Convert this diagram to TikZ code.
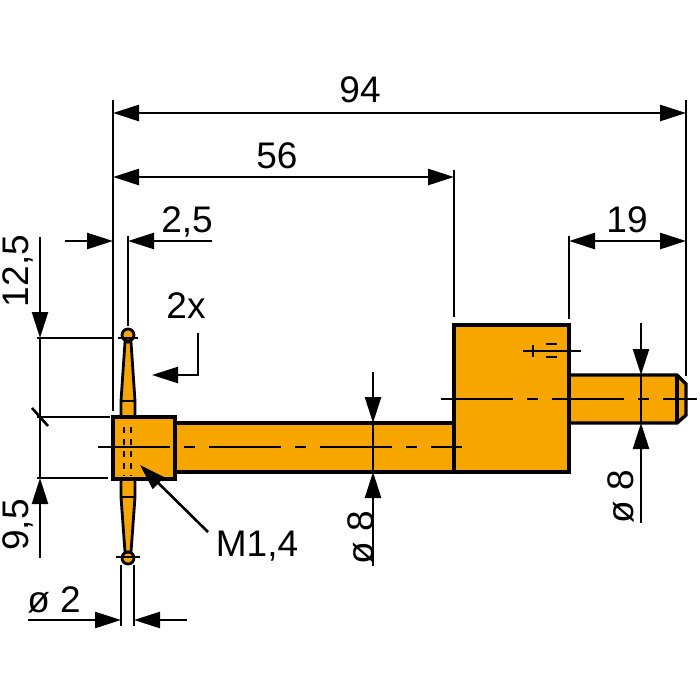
\documentclass[tikz,border=0pt]{standalone}
\usepackage{fontspec}
\setmainfont{Liberation Sans}
\usetikzlibrary{arrows.meta}
\definecolor{pinorange}{HTML}{F7A600}

\begin{document}
\begin{tikzpicture}[x=1pt,y=-1pt,>={Triangle[length=26pt,width=16pt]},
    dim/.style={line width=2.6pt,draw=black},
    part/.style={line width=3.4pt,draw=black,fill=pinorange,line join=miter},
    thin part/.style={line width=2.8pt,draw=black,fill=pinorange},
    axis/.style={line width=2pt,dash pattern=on 72pt off 14pt on 11pt off 14pt},
    hidden/.style={line width=2.2pt,dash pattern=on 6pt off 6pt},
    label/.style={font=\fontsize{37}{37}\selectfont,inner sep=0pt}]
\useasboundingbox (0,0) rectangle (700,700);
\fill[white] (0,0) rectangle (700,700);

% pin with the two balls
\draw[thin part] (128,335) circle (6);
\draw[thin part] (128,558) circle (6);
\draw[thin part] (125,342) -- (131,342) -- (135,401) -- (135,418) -- (121,418) -- (121,401) -- cycle;
\draw[thin part] (121,478) -- (135,478) -- (135,497) -- (131,552) -- (125,552) -- (121,497) -- cycle;
\draw[dim] (121,401) -- (135,401);
\draw[dim] (121,497) -- (135,497);
\draw[dim] (118,338) -- (138,338);
\draw[dim] (116,557) -- (140,557);

% body
\draw[part] (175,423) rectangle (455,472);
\draw[part] (113,417) rectangle (175,479);
\draw[part] (569,375) -- (677,375) -- (686,384) -- (686,415) -- (677,423) -- (569,423) -- cycle;
\draw[part] (677,375) -- (677,423);
\draw[part] (454,325) rectangle (569,472);

% hidden thread and centre lines
\draw[hidden] (124,427) -- (124,476);
\draw[hidden] (131,427) -- (131,476);
\draw[axis] (98,447) -- (462,447);
\draw[axis] (441,399) -- (697,399);
\draw[line width=2pt] (523,351) -- (581,351);
\draw[line width=2pt] (533,345) -- (533,357);
\draw[line width=2pt] (546,344) -- (557,344);
\draw[line width=2pt] (546,357) -- (557,357);

% extension lines
\draw[dim] (113,100) -- (113,411);
\draw[dim] (128,236) -- (128,326);
\draw[dim] (454,170) -- (454,317);
\draw[dim] (569,236) -- (569,319);
\draw[dim] (686,100) -- (686,376);
\draw[dim] (37,338) -- (113,338);
\draw[dim] (37,417) -- (110,417);
\draw[dim] (37,478) -- (108,478);
\draw[dim] (121,565) -- (121,626);
\draw[dim] (134,565) -- (134,626);
\draw[dim] (32,408) -- (48,426);

% dimension lines
\draw[dim,<->] (113,113) -- (686,113);
\draw[dim,<->] (113,177) -- (454,177);
\draw[dim,<->] (569,241) -- (686,241);
\draw[dim,->] (65,241) -- (113,241);
\draw[dim,->] (212,241) -- (128,241);
\draw[dim,->] (40,237) -- (40,338);
\draw[dim] (40,338) -- (40,478);
\draw[dim,->] (40,558) -- (40,478);
\draw[dim,->] (28,620) -- (121,620);
\draw[dim,->] (187,620) -- (134,620);
\draw[dim,->] (373,372) -- (373,423);
\draw[dim] (373,423) -- (373,472);
\draw[dim,->] (373,566) -- (373,472);
\draw[dim,->] (641,323) -- (641,375);
\draw[dim] (641,375) -- (641,423);
\draw[dim,->] (641,523) -- (641,423);

% leaders
\draw[dim,->] (198,333) -- (198,375) -- (152,375);
\draw[dim,->] (208,532) -- (140,465);

% labels
\node[label] (len94) at (360,90) {94};
\node[label] (len56) at (277,156) {56};
\node[label] (len19) at (627,220) {19};
\node[label] (len25) at (187,222) {2,5};
\node[label,rotate=90] (up125) at (18,271) {12,5};
\node[label,rotate=90] (low95) at (18,525) {9,5};
\node[label] (times) at (186,306) {2x};
\node[label] (thread) at (257,546) {M1,4};
\node[label,rotate=90] (dia8a) at (361,538) {ø 8};
\node[label,rotate=90] (dia8b) at (621,497) {ø 8};
\node[label] (dia2) at (54,600) {ø 2};
\end{tikzpicture}
\end{document}
